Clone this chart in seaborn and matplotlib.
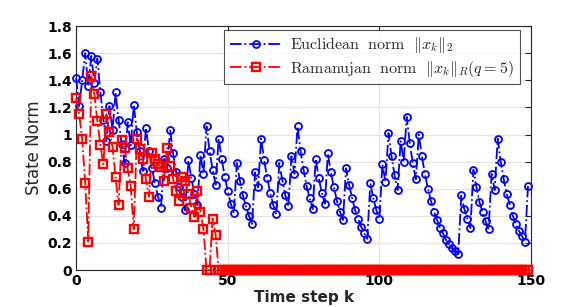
import numpy as np
import pandas as pd
import matplotlib
matplotlib.use("Agg")
import matplotlib.pyplot as plt
import seaborn as sns

# ---- data ----
steps = list(range(150))
euclid = [1.42, 1.21, 1.40, 1.60, 1.36, 1.58, 1.38, 1.56, 1.31, 1.11,
          0.95, 1.21, 1.03, 1.31, 1.11, 0.93, 0.79, 1.09, 0.92, 1.22,
          1.02, 0.88, 0.73, 1.05, 0.88, 0.75, 0.64, 0.54, 0.46, 0.82,
          0.75, 1.03, 0.86, 0.72, 0.61, 0.54, 0.44, 0.81, 0.68, 0.56,
          0.48, 0.85, 0.71, 1.06, 0.88, 0.74, 0.63, 0.97, 0.82, 0.69,
          0.58, 0.49, 0.42, 0.79, 0.66, 0.55, 0.47, 0.40, 0.34, 0.72,
          0.61, 0.97, 0.81, 0.68, 0.57, 0.48, 0.41, 0.79, 0.66, 0.55,
          0.47, 0.84, 0.71, 1.06, 0.88, 0.74, 0.62, 0.53, 0.45, 0.82,
          0.68, 0.57, 0.49, 0.86, 0.72, 0.61, 0.51, 0.43, 0.37, 0.75,
          0.63, 0.53, 0.44, 0.38, 0.32, 0.27, 0.23, 0.64, 0.53, 0.44,
          0.38, 0.78, 0.65, 1.01, 0.84, 0.70, 0.59, 0.95, 0.80, 1.13,
          0.94, 0.79, 0.67, 1.00, 0.84, 0.71, 0.60, 0.51, 0.43, 0.37,
          0.31, 0.27, 0.22, 0.19, 0.16, 0.14, 0.12, 0.55, 0.45, 0.38,
          0.31, 0.74, 0.61, 0.50, 0.43, 0.36, 0.30, 0.71, 0.59, 0.97,
          0.80, 0.67, 0.56, 0.48, 0.40, 0.34, 0.29, 0.25, 0.21, 0.62]
ramanujan_head = [1.27, 1.15, 0.97, 0.64, 0.21, 1.43, 1.30, 1.10, 0.92, 0.78,
                  1.15, 1.02, 0.91, 0.69, 0.48, 0.96, 0.90, 0.75, 0.62, 0.30,
                  0.97, 0.89, 0.82, 0.67, 0.54, 0.86, 0.82, 0.78, 0.76, 0.66,
                  0.90, 0.77, 0.67, 0.58, 0.51, 0.69, 0.66, 0.56, 0.46, 0.39,
                  0.58, 0.43, 0.30, 0.0, 0.0, 0.38, 0.26]
ramanujan = ramanujan_head + [0.0] * (len(steps) - len(ramanujan_head))
y_ticks = [0, 0.2, 0.4, 0.6, 0.8, 1.0, 1.2, 1.4, 1.6, 1.8]
y_tick_labels = ["0", "0.2", "0.4", "0.6", "0.8", "1", "1.2", "1.4", "1.6", "1.8"]
x_ticks = [0, 50, 100, 150]
label_euclid = r"$\mathrm{Euclidean\ \ norm}\ \ \|x_k\|_2$"
label_raman = r"$\mathrm{Ramanujan\ \ norm}\ \ \|x_k\|_R(q=5)$"

df = pd.DataFrame({"k": steps, "euclid": euclid, "raman": ramanujan})

sns.set_style("white")
plt.rcParams["mathtext.fontset"] = "cm"
plt.rcParams["font.family"] = ["DejaVu Sans"]

fig = plt.figure(figsize=(5.81, 3.07), dpi=100)
ax = fig.add_axes([0.131, 0.1205, 0.783, 0.7945])

sns.lineplot(data=df, x="k", y="euclid", ax=ax, color="#0000ff",
             linestyle="-.", linewidth=1.3, marker="o", markersize=5,
             markerfacecolor="none", markeredgecolor="#0000ff",
             markeredgewidth=1.3, label=label_euclid, clip_on=False, zorder=3)
sns.lineplot(data=df, x="k", y="raman", ax=ax, color="#ff0000",
             linestyle="-.", linewidth=1.3, marker="s", markersize=5.3,
             markerfacecolor="none", markeredgecolor="#ff0000",
             markeredgewidth=1.7, label=label_raman, clip_on=False, zorder=4)

ax.set_xlim(0, 150)
ax.set_ylim(0, 1.8)
ax.set_xticks(x_ticks)
ax.set_yticks(y_ticks)
ax.set_yticklabels(y_tick_labels)
ax.grid(True, color="#e3e3e3", linewidth=0.8)
ax.set_axisbelow(True)
for s in ax.spines.values():
    s.set_color("#262626")
    s.set_linewidth(0.8)
ax.tick_params(direction="in", length=4, width=0.8, top=True, right=True,
               labelsize=10, pad=3, colors="#262626")
for lab in ax.get_xticklabels() + ax.get_yticklabels():
    lab.set_fontweight("bold")
    lab.set_color("black")

ax.set_xlabel("Time step k", fontsize=11, fontweight="bold", labelpad=1)
ax.set_ylabel("State Norm", fontsize=12, labelpad=3)

leg = ax.legend(loc="upper right", bbox_to_anchor=(0.975, 0.985),
                fontsize=11.5, frameon=True, fancybox=False, borderpad=0.35,
                labelspacing=0.2, handlelength=3.3, handletextpad=0.5,
                borderaxespad=0.0)
leg.get_frame().set_edgecolor("#262626")
leg.get_frame().set_linewidth(0.8)

fig.savefig("out.png", dpi=100, facecolor="white")
